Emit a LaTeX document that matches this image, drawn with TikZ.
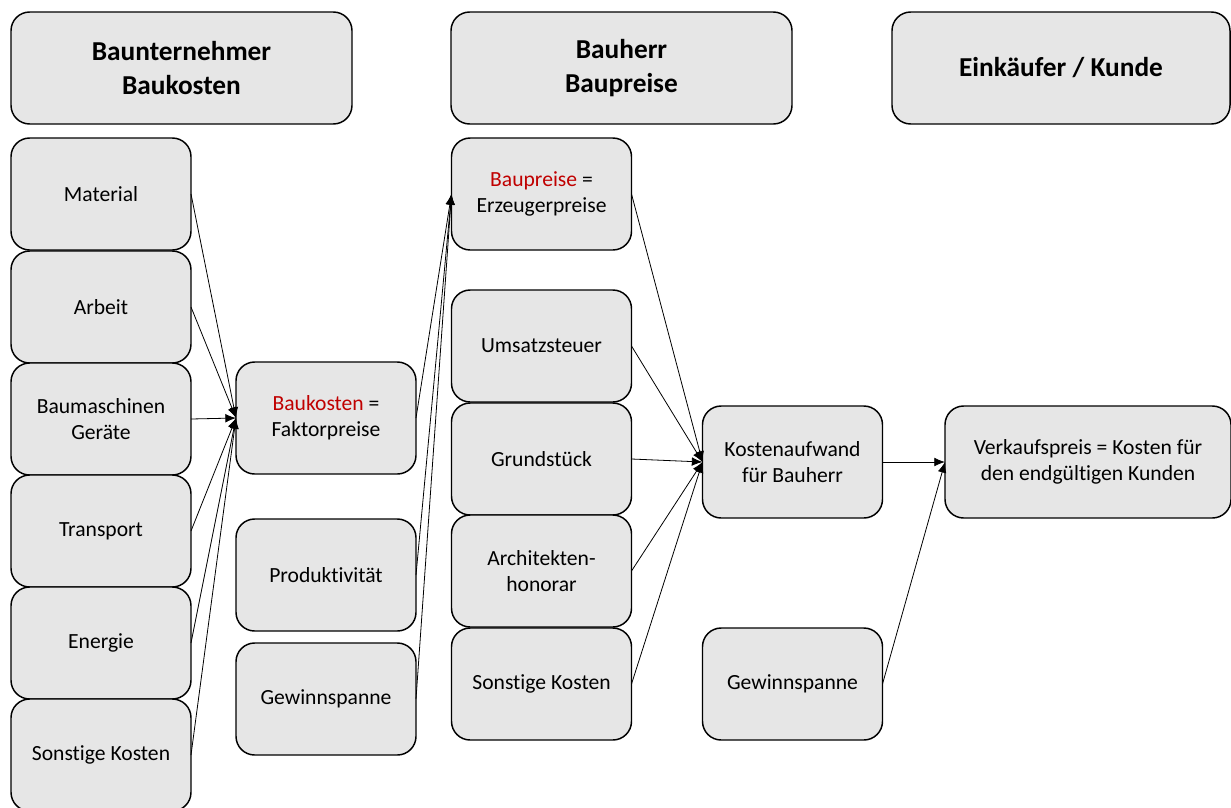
\documentclass[tikz,border=0pt]{standalone}
\usepackage{fontspec}
\setmainfont{Carlito}[Ligatures=NoCommon]
\usetikzlibrary{arrows.meta}
\definecolor{boxfill}{HTML}{E6E6E6}
\definecolor{redtxt}{HTML}{C00000}
\tikzset{
  box/.style={draw=black, line width=1.1pt, fill=boxfill, rounded corners=14pt,
    inner sep=0pt, outer sep=0pt, align=center, minimum height=84pt,
    font=\fontsize{16.2pt}{19.5pt}\selectfont},
  colbox/.style={box, minimum width=135pt},
  head/.style={box, minimum width=255.75pt, font=\fontsize{20.5pt}{25.5pt}\selectfont\bfseries},
  conn/.style={-{Latex[length=8pt,width=6.5pt]}, line width=0.6pt, black}
}
\begin{document}
\begin{tikzpicture}[x=0.75pt,y=-0.75pt]
\useasboundingbox (0,0) rectangle (1231,807);
% headers
\node[head] (h1) at (181.5,68) {Baunternehmer\\Baukosten};
\node[head] (h2) at (621.5,68) {Bauherr\\Baupreise};
\node[head, minimum width=253.5pt] (h3) at (1061,68) {Einkäufer / Kunde};
% left column
\node[colbox] (mat) at (101,194) {Material};
\node[colbox] (arb) at (101,307) {Arbeit};
\node[colbox] (bma) at (101,419) {Baumaschinen\\Geräte};
\node[colbox] (tra) at (101,531) {Transport};
\node[colbox] (ene) at (101,643) {Energie};
\node[colbox] (son) at (101,755) {Sonstige Kosten};
% second column
\node[colbox] (bk) at (326,418) {\textcolor{redtxt}{Baukosten} =\\Faktorpreise};
\node[colbox] (pro) at (326,575) {Produktivität};
\node[colbox] (gw1) at (326,699) {Gewinnspanne};
% third column
\node[colbox] (bp) at (541.5,194) {\textcolor{redtxt}{Baupreise} =\\Erzeugerpreise};
\node[colbox] (ust) at (541.5,346) {Umsatzsteuer};
\node[colbox] (gru) at (541.5,459) {Grundstück};
\node[colbox] (arc) at (541.5,571) {Architekten-\\honorar};
\node[colbox] (so2) at (541.5,684) {Sonstige Kosten};
% fourth column
\node[colbox] (ka) at (792.5,462) {Kostenaufwand\\für Bauherr};
\node[colbox] (gw2) at (792.5,684) {Gewinnspanne};
% fifth
\node[box, minimum width=214.5pt] (vk) at (1088,462) {Verkaufspreis = Kosten für\\den endgültigen Kunden};
% connectors
\foreach \s in {mat,arb,bma,tra,ene,son} \draw[conn] (\s.east) -- (bk.west);
\foreach \s in {bk,pro,gw1} \draw[conn] (\s.east) -- (bp.west);
\foreach \s in {bp,ust,gru,arc,so2} \draw[conn] (\s.east) -- (ka.west);
\foreach \s in {ka,gw2} \draw[conn] (\s.east) -- (vk.west);
\end{tikzpicture}
\end{document}
